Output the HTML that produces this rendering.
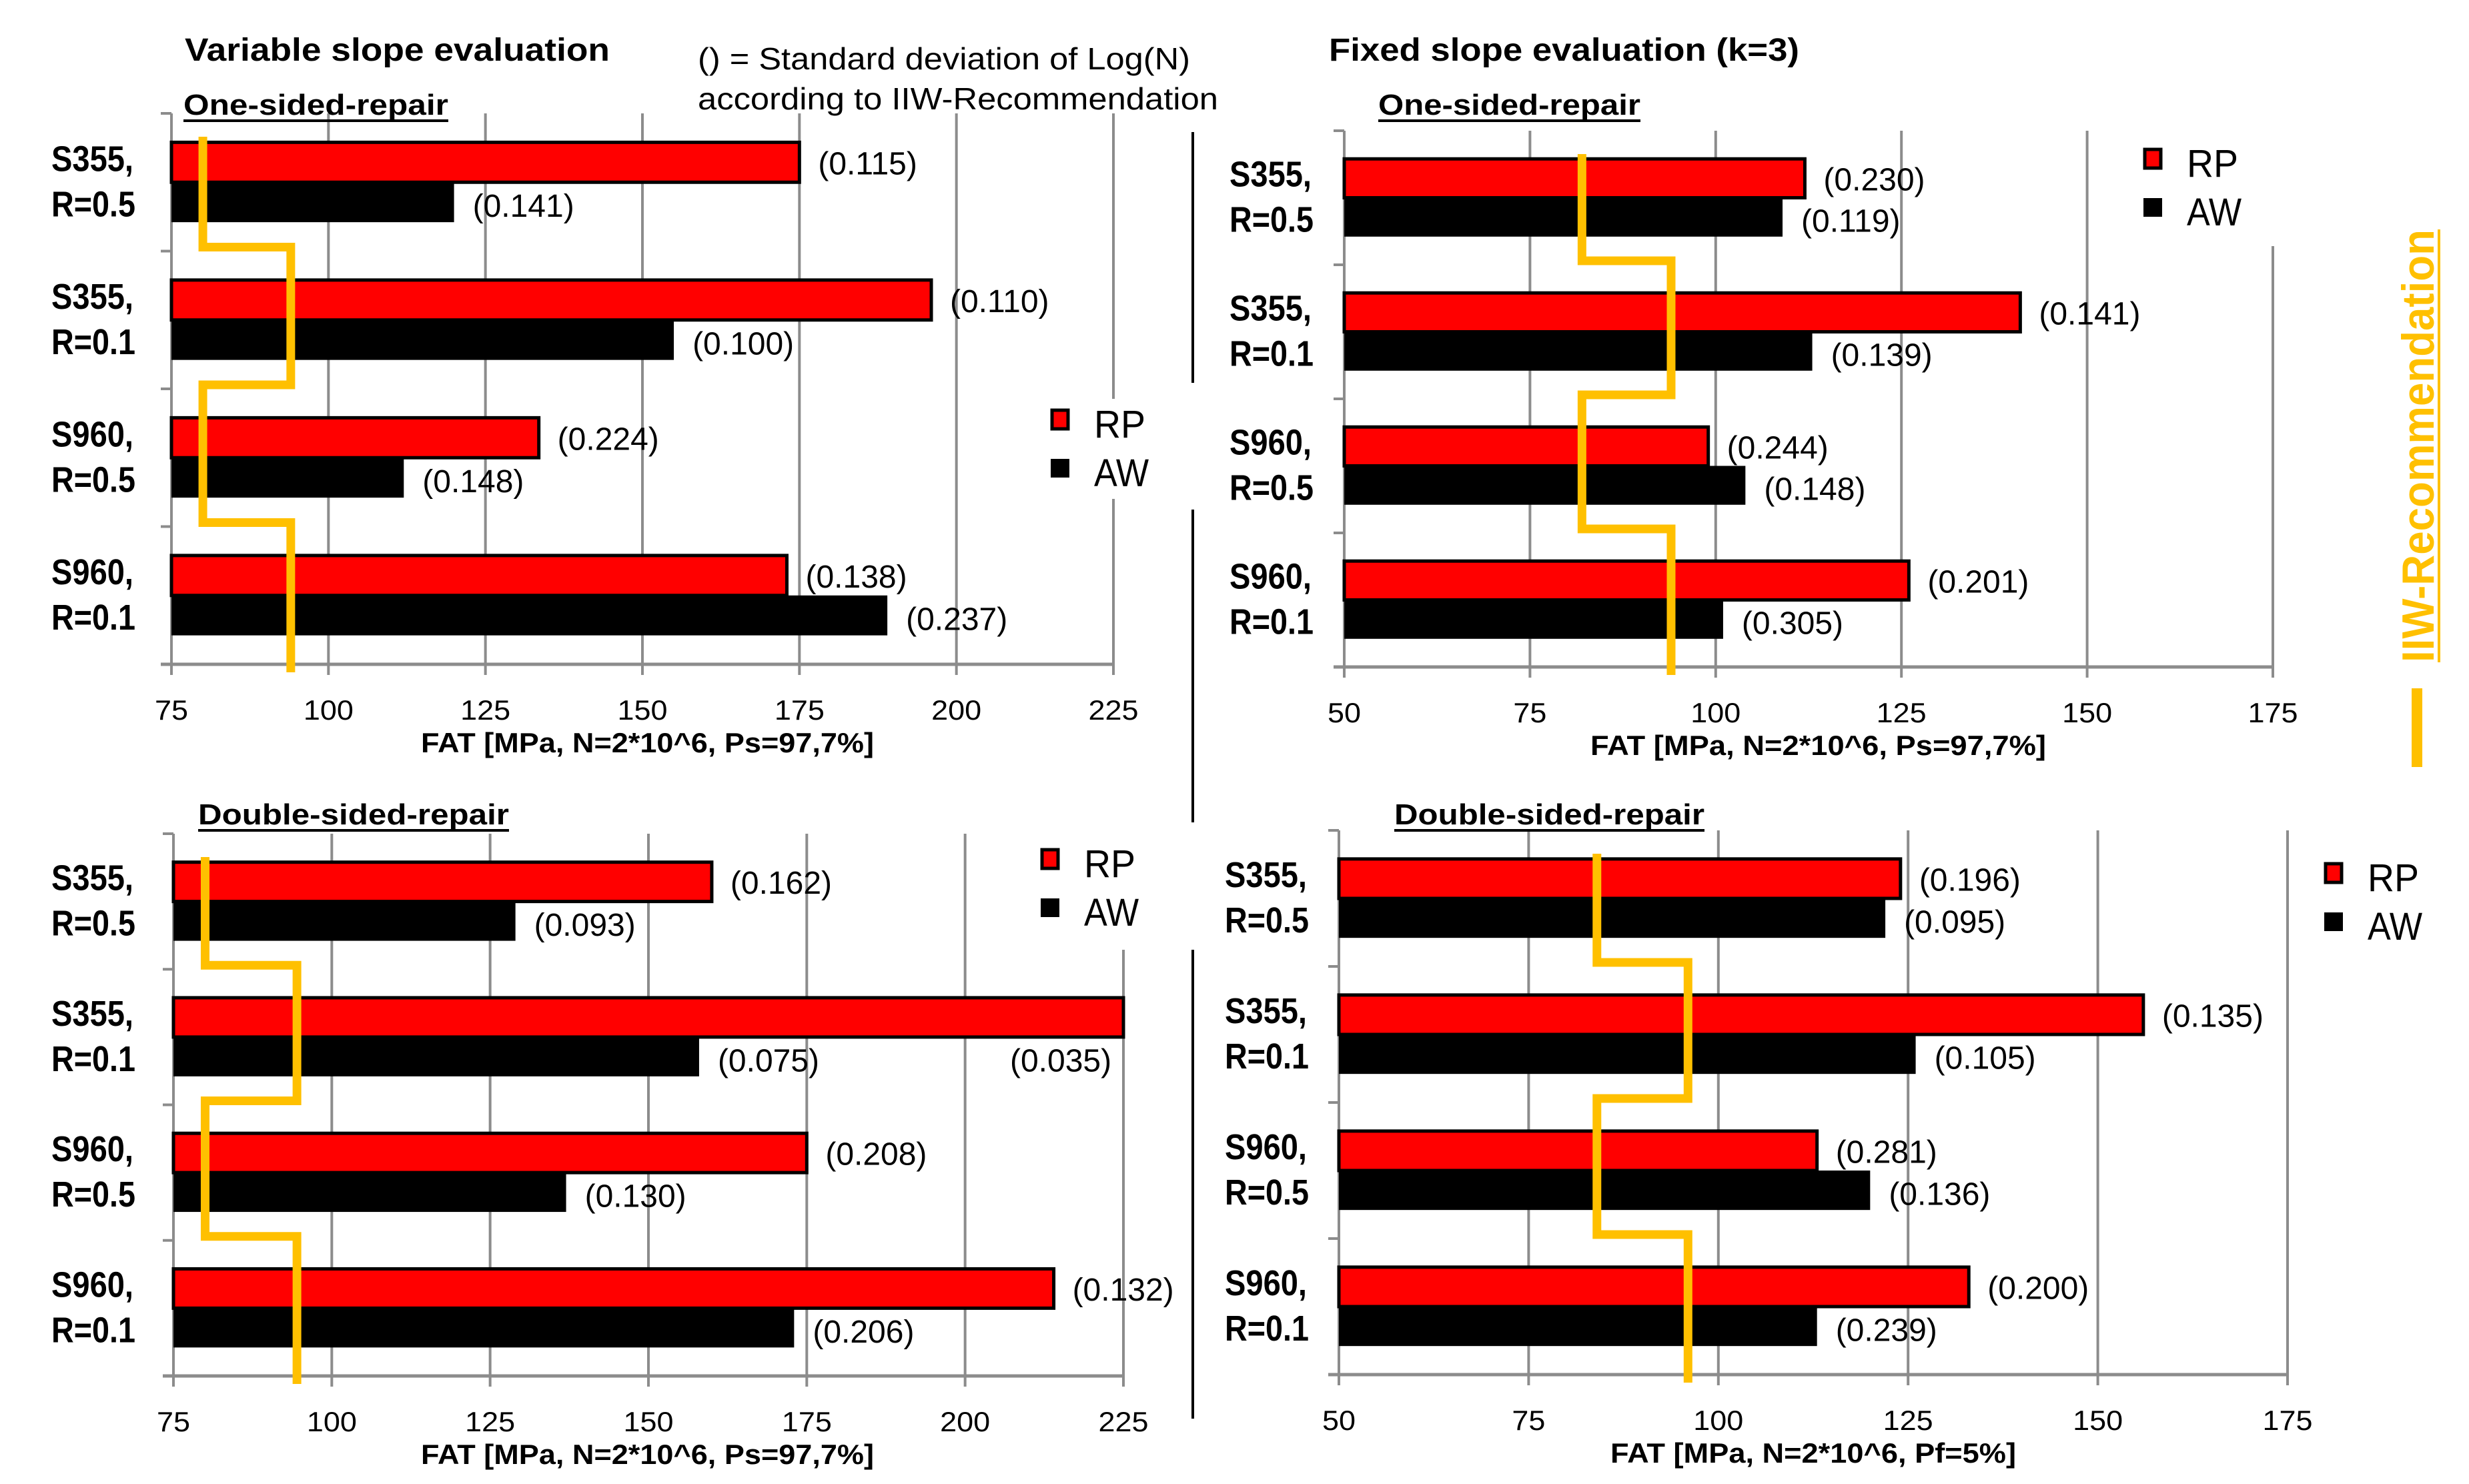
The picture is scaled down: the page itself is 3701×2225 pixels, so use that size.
<!DOCTYPE html>
<html><head><meta charset="utf-8"><style>
html,body{margin:0;padding:0;background:#fff}
svg{display:block}
text{font-family:"Liberation Sans",sans-serif}
</style></head><body>
<svg id="chart" xmlns="http://www.w3.org/2000/svg" width="3701" height="2225" viewBox="0 0 3701 2225">
<rect width="3701" height="2225" fill="#fff"/>
</svg>
<script>
const catLine1 = ["S355,","S355,","S960,","S960,"];
const catLine2 = ["R=0.5","R=0.1","R=0.5","R=0.1"];
// Panel 1: variable slope, one-sided
const p1RP = [175, 196, 133.5, 173];
const p1AW = [120, 155, 112, 189];
const p1RPsd = ["(0.115)","(0.110)","(0.224)","(0.138)"];
const p1AWsd = ["(0.141)","(0.100)","(0.148)","(0.237)"];
const p1IIW = [80, 94, 80, 94];
const p1Ticks = [75,100,125,150,175,200,225];
// Panel 2: fixed slope, one-sided
const p2RP = [112, 141, 99, 126];
const p2AW = [109, 113, 104, 101];
const p2RPsd = ["(0.230)","(0.141)","(0.244)","(0.201)"];
const p2AWsd = ["(0.119)","(0.139)","(0.148)","(0.305)"];
const p2IIW = [82, 94, 82, 94];
const p2Ticks = [50,75,100,125,150,175];
// Panel 3: variable slope, double-sided
const p3RP = [160, 225, 175, 214];
const p3AW = [129, 158, 137, 173];
const p3RPsd = ["(0.162)","(0.035)","(0.208)","(0.132)"];
const p3AWsd = ["(0.093)","(0.075)","(0.130)","(0.206)"];
const p3IIW = [80, 94.5, 80, 94.5];
const p3Ticks = [75,100,125,150,175,200,225];
// Panel 4: fixed slope, double-sided
const p4RP = [124, 156, 113, 133];
const p4AW = [122, 126, 120, 113];
const p4RPsd = ["(0.196)","(0.135)","(0.281)","(0.200)"];
const p4AWsd = ["(0.095)","(0.105)","(0.136)","(0.239)"];
const p4IIW = [84, 96, 84, 96];
const p4Ticks = [50,75,100,125,150,175];

const NS = "http://www.w3.org/2000/svg";
const svg = document.getElementById("chart");
function mk(tag, attrs, parent){
  const e = document.createElementNS(NS, tag);
  for (const k in attrs) e.setAttribute(k, attrs[k]);
  (parent||svg).appendChild(e);
  return e;
}
function txt(x, y, s, size, weight, len, parent, fill){
  const a = {x:x, y:y, "font-size":size, "font-weight":weight||"normal", fill:fill||"#000"};
  if (len){ a.textLength = len; a.lengthAdjust = "spacingAndGlyphs"; }
  const t = mk("text", a, parent);
  t.textContent = s;
  return t;
}

function panel(cfg){
  const g = mk("g", {});
  
  
  const {x0,x1,min,max,top,bottom} = cfg;
  const sx = v => x0 + (v-min)/(max-min)*(x1-x0);
  const band = (bottom-top)/4;
  // gridlines
  cfg.ticks.forEach((t,i)=>{
    const gx = sx(t);
    if (i>0){
      const gt = (i===cfg.ticks.length-1 && cfg.lastGridTop) ? cfg.lastGridTop : top;
      const l = mk("line",{x1:gx,y1:gt,x2:gx,y2:bottom,stroke:"#8c8c8c","stroke-width":4},g);
      
      
    }
    mk("line",{x1:gx,y1:bottom,x2:gx,y2:bottom+16,stroke:"#8c8c8c","stroke-width":4},g);
    const tl = txt(gx, bottom+83, String(t), 42, "normal", String(t).length*25, g);
    tl.setAttribute("text-anchor","middle");
    
    
  });
  // axes
  const ax = mk("line",{x1:x0,y1:top,x2:x0,y2:bottom,stroke:"#8c8c8c","stroke-width":4},g);
  
  
  const bx = mk("line",{x1:x0-16,y1:bottom,x2:x1,y2:bottom,stroke:"#8c8c8c","stroke-width":5},g);
  
  
  for (let i=0;i<=4;i++){
    const yy = top + i*band;
    mk("line",{x1:x0-16,y1:yy,x2:x0,y2:yy,stroke:"#8c8c8c","stroke-width":4},g);
  }
  // bars
  const bh = band*0.29;
  for (let i=0;i<4;i++){
    const c = top + (i+0.5)*band;
    const r = mk("rect",{x:x0,y:c-bh,width:sx(cfg.rp[i])-x0,height:bh,fill:"#ff0000",stroke:"#000","stroke-width":5},g);
    
    
    const a = mk("rect",{x:x0,y:c,width:sx(cfg.aw[i])-x0,height:bh,fill:"#000"},g);
    
    
    // value labels
    let rx = sx(cfg.rp[i]) + 28, ry = c - bh/2 + 18;
    if (cfg.rp[i] >= max - 1){ rx = sx(cfg.rp[i]) - 170; ry = c + bh/2 + 22; }
    const lr = txt(rx, ry, cfg.rpsd[i], 48, "normal", null, g);
    
    
    const la = txt(sx(cfg.aw[i]) + 28, c + bh/2 + 22, cfg.awsd[i], 48, "normal", null, g);
    
    
    // category labels
    const c1 = txt(cfg.labelX, c - 17, catLine1[i], 54, "bold", 123, g);
    
    
    const c2 = txt(cfg.labelX, c + 51, catLine2[i], 54, "bold", 126, g);
    
    
  }
  // IIW step line
  let d = "";
  const yStart = top + 35, yEnd = bottom + 12;
  for (let i=0;i<4;i++){
    const xx = sx(cfg.iiw[i]);
    const ya = i===0 ? yStart : top + i*band - 6;
    const yb = i===3 ? yEnd : top + (i+1)*band - 6;
    d += (i===0 ? "M" : "L") + xx + " " + ya + " L" + xx + " " + yb + " ";
  }
  const p = mk("path",{d:d,fill:"none",stroke:"#ffc000","stroke-width":13},g);
  
  
  // axis title
  const at = txt(cfg.atX, bottom+132, cfg.axisTitle, 42, "bold", cfg.atLen, g);
  
  
  // subtitle
  const st = txt(cfg.subX, cfg.subY, cfg.sub, 44, "bold", cfg.subLen, g);
  
  
  mk("line",{x1:cfg.subX,y1:cfg.subY+9,x2:cfg.subX+cfg.subLen,y2:cfg.subY+9,stroke:"#000","stroke-width":4},g);
  // legend
  const L = cfg.leg;
  const lg = mk("g",{},g);
  
  
  mk("rect",{x:L.x-15,y:L.y-15,width:200,height:150,fill:"#fff"},lg);
  const m1 = mk("rect",{x:L.x+2,y:L.y+2,width:24,height:28,fill:"#ff0000",stroke:"#000","stroke-width":5},lg);
  
  
  const t1 = txt(L.x+65, L.y+43, "RP", 58, "normal", 77, lg);
  
  
  const m2 = mk("rect",{x:L.x,y:L.y+75,width:28,height:28,fill:"#000"},lg);
  
  
  const t2 = txt(L.x+65, L.y+116, "AW", 58, "normal", 82, lg);
  
  
}

panel({name:"chart-variable-one-sided",x0:257,x1:1669,min:75,max:225,top:170,bottom:996,ticks:p1Ticks,
  rp:p1RP,aw:p1AW,rpsd:p1RPsd,awsd:p1AWsd,iiw:p1IIW,labelX:77,lastGridTop:null,
  axisTitle:"FAT [MPa, N=2*10^6, Ps=97,7%]",atX:631,atLen:679,
  sub:"One-sided-repair",subX:275,subY:172,subLen:397,leg:{x:1575,y:613}});
panel({name:"chart-fixed-one-sided",x0:2015,x1:3407,min:50,max:175,top:196,bottom:1000,ticks:p2Ticks,
  rp:p2RP,aw:p2AW,rpsd:p2RPsd,awsd:p2AWsd,iiw:p2IIW,labelX:1843,lastGridTop:369,
  axisTitle:"FAT [MPa, N=2*10^6, Ps=97,7%]",atX:2384,atLen:683,
  sub:"One-sided-repair",subX:2066,subY:172,subLen:393,leg:{x:3213,y:222}});
panel({name:"chart-variable-double-sided",x0:260,x1:1684,min:75,max:225,top:1250,bottom:2063,ticks:p3Ticks,
  rp:p3RP,aw:p3AW,rpsd:p3RPsd,awsd:p3AWsd,iiw:p3IIW,labelX:77,lastGridTop:1424,
  axisTitle:"FAT [MPa, N=2*10^6, Ps=97,7%]",atX:631,atLen:679,
  sub:"Double-sided-repair",subX:297,subY:1236,subLen:466,leg:{x:1560,y:1272}});
panel({name:"chart-fixed-double-sided",x0:2007,x1:3429,min:50,max:175,top:1245,bottom:2061,ticks:p4Ticks,
  rp:p4RP,aw:p4AW,rpsd:p4RPsd,awsd:p4AWsd,iiw:p4IIW,labelX:1836,lastGridTop:null,
  axisTitle:"FAT [MPa, N=2*10^6, Pf=5%]",atX:2414,atLen:608,
  sub:"Double-sided-repair",subX:2090,subY:1236,subLen:465,leg:{x:3484,y:1293}});

// titles and annotations
let t;
t = txt(277, 91, "Variable slope evaluation", 48, "bold", 637);


t = txt(1992, 91, "Fixed slope evaluation (k=3)", 48, "bold", 705);


t = txt(1046, 104, "() = Standard deviation of Log(N)", 46, "normal", 738);


t = txt(1046, 164, "according to IIW-Recommendation", 46, "normal", 780);



// dividers
[[198,574],[764,1233],[1424,2127]].forEach(s=>{
  const l = mk("line",{x1:1788,y1:s[0],x2:1788,y2:s[1],stroke:"#000","stroke-width":4});
  
  
});

// IIW vertical legend
const iiw = mk("text",{x:0,y:0,"font-size":68,"font-weight":"bold",fill:"#ffc000",
  textLength:649,lengthAdjust:"spacingAndGlyphs",transform:"translate(3648,993) rotate(-90)"});
iiw.textContent = "IIW-Recommendation";


let ul = mk("line",{x1:3656,y1:344,x2:3656,y2:993,stroke:"#ffc000","stroke-width":4});


ul = mk("line",{x1:3623,y1:1032,x2:3623,y2:1150,stroke:"#ffc000","stroke-width":16});


</script>
</body></html>
